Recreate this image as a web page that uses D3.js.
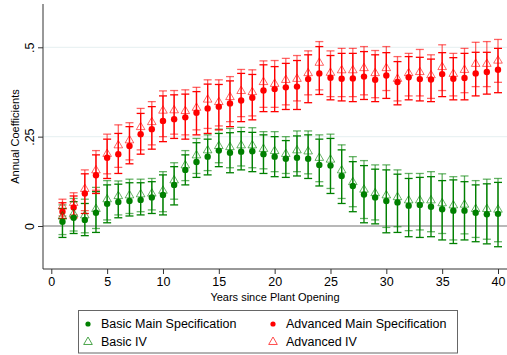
<!DOCTYPE html>
<html>
<head>
<meta charset="utf-8">
<script src="https://cdn.jsdelivr.net/npm/d3@7"></script>
<style>
  body { margin: 0; background: #fff; }
  svg { font-family: "Liberation Sans", Arial, Helvetica, sans-serif; }
</style>
</head>
<body>
<svg width="507" height="355"></svg>
<script>
let width = 507,
  height = 355;

// Years since plant opening
let years = d3.range(1, 41);

// Basic main specification: estimate and 95% CI
let basicMain = [0.012, 0.023, 0.017, 0.037, 0.062, 0.067, 0.070, 0.073, 0.080, 0.087,
  0.115, 0.157, 0.179, 0.194, 0.211, 0.205, 0.208, 0.209, 0.201, 0.194,
  0.188, 0.191, 0.188, 0.171, 0.169, 0.140, 0.112, 0.088, 0.080, 0.070,
  0.066, 0.057, 0.059, 0.054, 0.047, 0.043, 0.043, 0.037, 0.033, 0.034];
let basicMainLo = [-0.032, -0.021, -0.027, -0.018, 0.009, 0.023, 0.028, 0.031, 0.035, 0.031,
  0.059, 0.115, 0.136, 0.143, 0.166, 0.149, 0.157, 0.152, 0.147, 0.138,
  0.136, 0.140, 0.133, 0.112, 0.091, 0.063, 0.040, 0.009, 0.006, -0.019,
  -0.018, -0.030, -0.032, -0.030, -0.039, -0.049, -0.039, -0.044, -0.050, -0.058];
let basicMainHi = [0.049, 0.068, 0.063, 0.096, 0.115, 0.117, 0.121, 0.121, 0.124, 0.143,
  0.166, 0.199, 0.233, 0.243, 0.259, 0.261, 0.264, 0.262, 0.255, 0.250,
  0.239, 0.252, 0.255, 0.243, 0.245, 0.213, 0.180, 0.169, 0.159, 0.157,
  0.145, 0.133, 0.136, 0.138, 0.127, 0.129, 0.124, 0.115, 0.118, 0.122];

// Basic IV
let basicIV = [0.028, 0.035, 0.031, 0.049, 0.076, 0.085, 0.087, 0.090, 0.092, 0.100,
  0.129, 0.171, 0.199, 0.213, 0.225, 0.222, 0.227, 0.227, 0.217, 0.211,
  0.203, 0.213, 0.210, 0.192, 0.187, 0.157, 0.124, 0.103, 0.093, 0.087,
  0.082, 0.073, 0.073, 0.073, 0.065, 0.059, 0.061, 0.049, 0.049, 0.047];
let basicIVLo = [-0.024, -0.014, -0.019, -0.007, 0.017, 0.031, 0.035, 0.040, 0.045, 0.040,
  0.075, 0.127, 0.147, 0.155, 0.177, 0.163, 0.168, 0.163, 0.160, 0.152,
  0.147, 0.152, 0.146, 0.124, 0.105, 0.077, 0.054, 0.021, 0.017, -0.004,
  -0.002, -0.013, -0.011, -0.016, -0.021, -0.039, -0.022, -0.032, -0.037, -0.044];
let basicIVHi = [0.059, 0.077, 0.075, 0.108, 0.127, 0.126, 0.131, 0.131, 0.133, 0.152,
  0.177, 0.211, 0.245, 0.255, 0.271, 0.273, 0.276, 0.275, 0.264, 0.264,
  0.250, 0.266, 0.266, 0.255, 0.257, 0.227, 0.194, 0.183, 0.171, 0.171,
  0.157, 0.147, 0.147, 0.152, 0.146, 0.138, 0.140, 0.127, 0.131, 0.133];

// Advanced main specification
let advMain = [0.040, 0.052, 0.091, 0.142, 0.191, 0.201, 0.224, 0.257, 0.271, 0.294,
  0.299, 0.304, 0.317, 0.329, 0.334, 0.343, 0.351, 0.359, 0.379, 0.383,
  0.388, 0.390, 0.411, 0.427, 0.415, 0.412, 0.413, 0.418, 0.409, 0.421,
  0.403, 0.416, 0.411, 0.410, 0.425, 0.412, 0.414, 0.427, 0.431, 0.437];
let advMainLo = [0.021, 0.023, 0.035, 0.091, 0.133, 0.147, 0.174, 0.201, 0.215, 0.236,
  0.245, 0.243, 0.255, 0.259, 0.269, 0.278, 0.292, 0.297, 0.320, 0.320,
  0.326, 0.326, 0.345, 0.368, 0.353, 0.350, 0.348, 0.354, 0.348, 0.357,
  0.339, 0.353, 0.350, 0.348, 0.362, 0.353, 0.353, 0.364, 0.369, 0.373];
let advMainHi = [0.065, 0.084, 0.146, 0.199, 0.243, 0.259, 0.278, 0.315, 0.334, 0.364,
  0.367, 0.369, 0.376, 0.397, 0.396, 0.406, 0.427, 0.424, 0.451, 0.446,
  0.455, 0.463, 0.479, 0.502, 0.477, 0.483, 0.483, 0.488, 0.479, 0.485,
  0.460, 0.474, 0.472, 0.467, 0.485, 0.471, 0.483, 0.486, 0.486, 0.497];

// Advanced IV
let advIV = [0.056, 0.066, 0.105, 0.157, 0.203, 0.227, 0.241, 0.278, 0.292, 0.324,
  0.325, 0.323, 0.332, 0.355, 0.348, 0.362, 0.379, 0.376, 0.404, 0.399,
  0.410, 0.413, 0.429, 0.458, 0.430, 0.437, 0.437, 0.443, 0.429, 0.443,
  0.413, 0.429, 0.432, 0.423, 0.446, 0.427, 0.438, 0.455, 0.455, 0.464];
let advIVLo = [0.028, 0.031, 0.043, 0.100, 0.146, 0.164, 0.185, 0.213, 0.227, 0.250,
  0.257, 0.255, 0.269, 0.273, 0.280, 0.292, 0.306, 0.308, 0.332, 0.332,
  0.339, 0.350, 0.367, 0.381, 0.362, 0.362, 0.362, 0.367, 0.359, 0.379,
  0.350, 0.364, 0.364, 0.357, 0.379, 0.364, 0.373, 0.390, 0.390, 0.402];
let advIVHi = [0.075, 0.093, 0.157, 0.211, 0.257, 0.283, 0.289, 0.329, 0.348, 0.378,
  0.379, 0.381, 0.388, 0.409, 0.409, 0.418, 0.438, 0.437, 0.462, 0.463,
  0.469, 0.477, 0.490, 0.516, 0.490, 0.497, 0.497, 0.502, 0.491, 0.502,
  0.474, 0.483, 0.494, 0.479, 0.507, 0.483, 0.497, 0.514, 0.516, 0.522];

let xTicks = [0, 5, 10, 15, 20, 25, 30, 35, 40];
let yTicks = [0, 0.25, 0.5];
let yTickLabels = ["0", ".25", ".5"];

let green = "#008000",
  red = "#ff0000";

let svg = d3.select("svg").attr("viewBox", "0 0 " + width + " " + height);

// plot region
let plotLeft = 43,
  plotRight = 507,
  plotTop = 4,
  plotBottom = 269;

let x = d3.scaleLinear().domain([0, 40]).range([51.3, 498]);
let y = d3.scaleLinear().domain([0, 0.5]).range([226, 47.3]);

// gridlines
svg
  .append("g")
  .selectAll("line")
  .data([0.25, 0.5])
  .enter()
  .append("line")
  .attr("x1", plotLeft)
  .attr("x2", plotRight)
  .attr("y1", (d) => y(d))
  .attr("y2", (d) => y(d))
  .attr("stroke", "#eaf2f3")
  .attr("stroke-width", 1.2);

// zero line
svg
  .append("line")
  .attr("x1", plotLeft)
  .attr("x2", plotRight)
  .attr("y1", y(0))
  .attr("y2", y(0))
  .attr("stroke", "#a0a0a0")
  .attr("stroke-width", 1.4);

// axes
let yAxis = d3
  .axisLeft(y)
  .tickValues(yTicks)
  .tickFormat((d, i) => yTickLabels[i])
  .tickSize(5)
  .tickPadding(0);

let gy = svg
  .append("g")
  .attr("transform", "translate(" + plotLeft + ",0)")
  .call(yAxis);
gy.select(".domain").remove();
gy.selectAll(".tick line").attr("stroke", "#333");
gy.selectAll(".tick text")
  .attr("transform", "translate(-9.5,0) rotate(-90)")
  .attr("x", 0)
  .attr("dy", "0")
  .attr("text-anchor", "middle")
  .style("font-size", "12.5px")
  .attr("fill", "#000");
gy.append("line")
  .attr("x1", 0)
  .attr("x2", 0)
  .attr("y1", plotTop)
  .attr("y2", plotBottom)
  .attr("stroke", "#333");

let xAxis = d3.axisBottom(x).tickValues(xTicks).tickSize(5).tickPadding(3);
let gx = svg
  .append("g")
  .attr("transform", "translate(0," + plotBottom + ")")
  .call(xAxis);
gx.select(".domain").remove();
gx.selectAll(".tick line").attr("stroke", "#333");
gx.selectAll(".tick text").style("font-size", "12.5px").attr("fill", "#000");
gx.append("line")
  .attr("x1", plotLeft)
  .attr("x2", plotRight)
  .attr("y1", 0)
  .attr("y2", 0)
  .attr("stroke", "#333");

// axis titles
svg
  .append("text")
  .attr("x", (plotLeft + plotRight) / 2)
  .attr("y", 301)
  .attr("text-anchor", "middle")
  .style("font-size", "11px")
  .text("Years since Plant Opening");

svg
  .append("text")
  .attr("transform", "translate(18.5," + (plotTop + plotBottom) / 2 + ") rotate(-90)")
  .attr("text-anchor", "middle")
  .style("font-size", "11px")
  .text("Annual Coefficients");

// error bars
function errorBars(lo, hi, color, opacity) {
  let g = svg.append("g").attr("stroke", color).attr("stroke-opacity", opacity).attr("stroke-width", 1.3);
  let rows = years.map((t, i) => ({ t: t, lo: lo[i], hi: hi[i] }));
  g.selectAll(".bar")
    .data(rows)
    .enter()
    .append("line")
    .attr("x1", (d) => x(d.t))
    .attr("x2", (d) => x(d.t))
    .attr("y1", (d) => y(d.lo))
    .attr("y2", (d) => y(d.hi));
  ["lo", "hi"].forEach((k) => {
    g.selectAll(".cap-" + k)
      .data(rows)
      .enter()
      .append("line")
      .attr("x1", (d) => x(d.t) - 4)
      .attr("x2", (d) => x(d.t) + 4)
      .attr("y1", (d) => y(d[k]))
      .attr("y2", (d) => y(d[k]));
  });
}

errorBars(basicIVLo, basicIVHi, green, 0.6);
errorBars(advIVLo, advIVHi, red, 0.6);
errorBars(basicMainLo, basicMainHi, green, 1);
errorBars(advMainLo, advMainHi, red, 1);

let tri = d3.symbol().type(d3.symbolTriangle).size(32);

function triangles(vals, color) {
  svg
    .append("g")
    .selectAll("path")
    .data(vals)
    .enter()
    .append("path")
    .attr("d", tri)
    .attr("transform", (d, i) => "translate(" + x(years[i]) + "," + (y(d) + 0.5) + ")")
    .attr("fill", "none")
    .attr("stroke", color)
    .attr("stroke-opacity", 0.6)
    .attr("stroke-width", 1);
}

function dots(vals, color) {
  svg
    .append("g")
    .selectAll("circle")
    .data(vals)
    .enter()
    .append("circle")
    .attr("cx", (d, i) => x(years[i]))
    .attr("cy", (d) => y(d))
    .attr("r", 3.2)
    .attr("fill", color);
}

dots(basicMain, green);
dots(advMain, red);
triangles(basicIV, green);
triangles(advIV, red);

// legend
let legend = svg.append("g");
legend
  .append("rect")
  .attr("x", 78.5)
  .attr("y", 310.5)
  .attr("width", 379)
  .attr("height", 42.5)
  .attr("fill", "#fff")
  .attr("stroke", "#666")
  .attr("stroke-width", 1);

let legendItems = [
  { label: "Basic Main Specification", color: green, kind: "dot", lx: 88, ly: 324 },
  { label: "Advanced Main Specification", color: red, kind: "dot", lx: 273, ly: 324 },
  { label: "Basic IV", color: green, kind: "tri", lx: 88, ly: 342 },
  { label: "Advanced IV", color: red, kind: "tri", lx: 273, ly: 342 },
];

legendItems.forEach((d) => {
  if (d.kind == "dot") {
    legend.append("circle").attr("cx", d.lx).attr("cy", d.ly).attr("r", 2.6).attr("fill", d.color);
  } else {
    legend
      .append("path")
      .attr("d", tri)
      .attr("transform", "translate(" + d.lx + "," + d.ly + ")")
      .attr("fill", "none")
      .attr("stroke", d.color)
      .attr("stroke-opacity", 0.7);
  }
  legend
    .append("text")
    .attr("x", d.lx + 13)
    .attr("y", d.ly)
    .attr("dy", "0.35em")
    .style("font-size", "12.5px")
    .text(d.label);
});
</script>
</body>
</html>
